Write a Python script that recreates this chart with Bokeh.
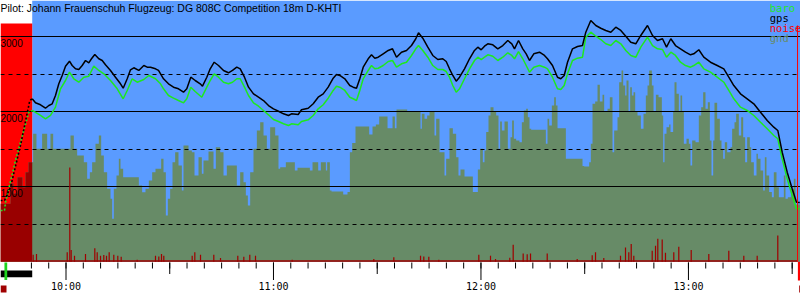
from bokeh.plotting import figure
from bokeh.models import Range1d
from bokeh.embed import file_html
from bokeh.resources import INLINE
from bokeh.core.properties import value

# ---------------- data (time = minutes after 10:00, altitude in m) ----------------
title = "Pilot: Johann Frauenschuh Flugzeug: DG 808C Competition 18m D-KHTI"
legend_labels = ["baro", "gps", "noise", "gnd"]
hour_ticks = [0, 60, 120, 180]
hour_labels = ["10:00", "11:00", "12:00", "13:00"]
y_labels = [1000, 2000, 3000]
grid_solid = [1000, 2000, 3000]
grid_dashed = [500, 1500, 2500]

RELEASE = -9.77      # end of tow (red zone)
TAKEOFF = -17.4
LANDING = 211.55

tow_gps_t = [-18.94, -17.78, -16.05, -13.16, -10.47, -9.77]
tow_gps_alt = [817, 817, 995, 1551, 2152, 2175]
tow_baro_t = [-18.94, -17.78, -17.49, -14.60, -10.76, -9.77]
tow_baro_alt = [684, 684, 794, 1351, 1996, 2019]

gps_t = [-9.77, -8.82, -7.37, -5.93, -4.97, -3.99, -3.04, -2.08, -1.10, -0.14,
         1.01, 1.79, 2.75, 3.70, 4.68, 5.64, 6.59, 7.37, 8.33, 9.49,
         10.47, 11.42, 12.87, 14.31, 15.76, 16.54, 17.70, 18.65, 19.61, 21.05,
         22.50, 23.48, 24.44, 25.88, 26.75, 28.20, 29.64, 31.09, 32.53, 33.98,
         34.93, 36.09, 37.36, 38.81, 39.47, 40.72, 41.70, 42.86, 44.10, 45.55,
         46.99, 48.15, 49.39, 50.38, 51.62, 52.78, 54.22, 55.67, 57.11, 58.56,
         60.00, 61.45, 62.90, 64.34, 65.21, 67.15, 68.10, 70.04, 71.49, 72.93,
         74.38, 75.82, 77.27, 78.22, 79.18, 80.63, 82.07, 83.05, 84.01, 84.96,
         85.95, 87.39, 88.35, 89.30, 90.28, 91.73, 93.18, 94.42, 95.58, 97.02,
         98.47, 99.91, 101.16, 101.94, 103.18, 104.63, 106.07, 107.52, 108.96, 109.95,
         110.90, 111.86, 112.84, 113.80, 115.24, 116.69, 118.13, 119.09, 120.07, 121.03,
         121.98, 123.43, 124.87, 126.32, 127.76, 128.92, 129.70, 130.86, 132.10, 133.08,
         134.04, 135.28, 136.93, 138.37, 139.24, 140.69, 142.13, 143.09, 144.07, 145.03,
         146.47, 147.92, 149.36, 150.32, 151.76, 153.21, 154.66, 156.10, 157.55, 158.99,
         160.44, 161.89, 163.33, 164.78, 166.22, 168.16, 169.61, 171.05, 172.50, 173.66,
         174.90, 176.26, 177.70, 179.15, 180.60, 181.55, 183.00, 184.44, 186.38, 188.32,
         190.23, 191.67, 193.12, 195.05, 196.99, 198.90, 200.84, 202.78, 204.68, 205.84,
         207.11, 208.56, 210.00, 211.25, 212.20]
gps_alt = [2175, 2121, 2095, 2049, 2085, 2108, 2219, 2375, 2486, 2610,
           2677, 2619, 2575, 2566, 2619, 2686, 2655, 2709, 2766, 2709,
           2686, 2629, 2553, 2463, 2375, 2316, 2442, 2562, 2589, 2553,
           2619, 2597, 2597, 2575, 2553, 2442, 2375, 2330, 2308, 2263,
           2308, 2463, 2419, 2375, 2343, 2463, 2575, 2663, 2619, 2553,
           2522, 2553, 2597, 2575, 2463, 2330, 2241, 2196, 2152, 2085,
           2041, 2009, 1974, 1952, 1974, 1965, 2028, 2049, 2108, 2196,
           2241, 2330, 2450, 2499, 2486, 2442, 2352, 2330, 2316, 2442,
           2597, 2709, 2762, 2717, 2730, 2775, 2820, 2842, 2730, 2797,
           2820, 2886, 2976, 3056, 2984, 2864, 2753, 2699, 2709, 2673,
           2575, 2486, 2410, 2463, 2575, 2709, 2820, 2864, 2829, 2877,
           2909, 2895, 2842, 2886, 2953, 2909, 2842, 2953, 2842, 2775,
           2686, 2775, 2797, 2753, 2709, 2619, 2463, 2442, 2486, 2663,
           2842, 2873, 2886, 3064, 3220, 3153, 3117, 3087, 3064, 3131,
           3087, 3010, 2930, 2909, 3020, 3153, 3020, 2953, 2976, 2864,
           2976, 2886, 2842, 2797, 2762, 2775, 2829, 2730, 2663, 2619,
           2575, 2463, 2352, 2241, 2175, 2108, 1996, 1885, 1796, 1752,
           1462, 1195, 973, 794, 790]

baro_t = [-9.77, -7.37, -5.93, -4.48, -3.04, -1.59, -0.14, 1.01, 2.26, 3.70,
          5.15, 6.59, 8.04, 9.49, 10.93, 12.87, 14.81, 16.54, 17.70, 19.14,
          20.59, 22.50, 23.95, 25.88, 27.33, 28.20, 29.64, 31.09, 32.53, 33.98,
          34.93, 36.09, 37.36, 39.27, 40.72, 41.70, 42.86, 44.10, 45.55, 46.99,
          48.15, 49.39, 50.38, 51.62, 52.78, 54.22, 55.67, 57.11, 58.56, 60.00,
          61.45, 62.90, 64.34, 65.21, 67.15, 68.10, 70.04, 71.49, 72.93, 74.38,
          75.82, 77.27, 78.22, 79.18, 80.63, 82.07, 83.05, 84.01, 84.96, 85.95,
          87.39, 88.35, 89.30, 90.28, 91.73, 93.18, 94.42, 95.58, 97.02, 98.47,
          99.91, 101.16, 101.94, 103.18, 104.63, 106.07, 107.52, 108.96, 109.95, 110.90,
          111.86, 112.84, 113.80, 115.24, 116.69, 118.13, 119.09, 120.07, 121.03, 121.98,
          123.43, 124.87, 126.32, 127.76, 128.92, 129.70, 130.86, 132.10, 133.08, 134.04,
          135.28, 136.93, 138.37, 139.24, 140.69, 142.13, 143.09, 144.07, 145.03, 146.47,
          147.92, 149.36, 150.32, 151.76, 153.21, 154.66, 156.10, 157.55, 158.99, 160.44,
          161.89, 163.33, 164.78, 166.22, 168.16, 169.61, 171.05, 172.50, 173.66, 174.90,
          176.26, 177.70, 179.15, 180.60, 181.55, 183.00, 184.44, 186.38, 188.32, 190.23,
          191.67, 193.12, 195.05, 196.99, 198.90, 200.84, 202.78, 204.68, 205.84, 207.11,
          208.56, 210.00, 211.25, 212.20]
baro_alt = [2019, 1952, 1908, 1952, 2063, 2308, 2419, 2530, 2442, 2396,
            2463, 2476, 2610, 2553, 2508, 2419, 2308, 2175, 2286, 2442,
            2396, 2432, 2486, 2442, 2375, 2308, 2219, 2183, 2152, 2121,
            2175, 2330, 2272, 2196, 2330, 2419, 2508, 2463, 2396, 2375,
            2396, 2442, 2442, 2330, 2219, 2121, 2076, 2019, 1961, 1898,
            1872, 1841, 1818, 1841, 1828, 1872, 1894, 1952, 2041, 2095,
            2183, 2286, 2343, 2330, 2286, 2196, 2175, 2152, 2286, 2442,
            2553, 2619, 2575, 2583, 2619, 2673, 2686, 2597, 2642, 2663,
            2753, 2842, 2886, 2820, 2730, 2619, 2566, 2566, 2539, 2463,
            2352, 2263, 2308, 2442, 2575, 2686, 2730, 2699, 2730, 2762,
            2743, 2686, 2730, 2789, 2753, 2709, 2806, 2709, 2619, 2530,
            2597, 2619, 2597, 2575, 2463, 2308, 2299, 2352, 2508, 2686,
            2717, 2730, 2997, 3064, 3010, 2966, 2909, 2886, 2953, 2909,
            2820, 2753, 2730, 2864, 2997, 2886, 2842, 2833, 2730, 2797,
            2753, 2663, 2619, 2597, 2619, 2663, 2575, 2530, 2463, 2396,
            2286, 2175, 2063, 2019, 1952, 1862, 1774, 1685, 1641, 1374,
            1107, 884, 706, 706]

gnd_t = [-18.94, -16.05, -15.18, -14.03, -12.58, -11.71, -10.84,
         -9.50, -8.54, -6.90, -5.45, -4.49, -3.71, 1.30, 2.26, 3.23, 5.15, 6.12, 6.89, 7.56,
         8.53, 9.49, 10.17, 10.94, 11.90, 12.87, 13.35, 13.83, 14.60, 15.28,
         15.76, 16.53, 21.06, 22.02, 22.99, 23.95, 24.92, 25.88, 27.52, 28.20,
         28.87, 29.45, 30.12, 30.80, 31.57, 32.53, 33.50, 33.98, 35.43, 36.39,
         37.16, 38.32, 39.28, 39.76, 41.21, 42.66, 43.33, 44.58, 45.55, 46.51,
         49.40, 50.37, 51.33, 52.01, 52.59, 53.26, 54.22, 55.19, 56.15, 57.12,
         58.08, 59.04, 60.49, 61.45, 61.94, 63.57, 66.18, 66.95, 70.52, 71.29,
         72.93, 73.70, 75.15, 75.53, 76.30, 76.78, 80.16, 81.41, 82.09, 82.76,
         83.72, 87.68, 88.64, 89.61, 90.57, 92.98, 94.43, 95.10, 95.58, 98.67,
         102.52, 102.90, 103.67, 104.44, 105.12, 106.56, 107.05, 108.01, 109.46, 109.94,
         110.90, 111.87, 112.83, 113.50, 114.08, 115.24, 117.65, 119.10, 119.77, 120.54,
         121.02, 121.51, 122.18, 122.76, 123.63, 124.40, 125.07, 125.55, 126.04, 126.81,
         127.77, 128.54, 129.02, 129.51, 130.18, 131.14, 131.82, 132.40, 133.07, 133.56,
         134.04, 134.52, 138.76, 139.25, 139.73, 140.50, 141.17, 141.66, 142.14, 144.55,
         149.37, 149.85, 151.30, 151.78, 152.26, 153.03, 153.71, 154.38, 155.15, 155.63,
         156.60, 157.27, 158.04, 158.53, 159.49, 159.97, 160.65, 161.13, 161.71, 162.09,
         162.67, 163.15, 163.64, 164.12, 164.60, 165.27, 166.24, 167.01, 167.68, 168.17,
         168.65, 169.42, 169.90, 170.58, 171.35, 172.31, 172.70, 173.08, 173.66, 174.43,
         174.81, 175.58, 175.97, 176.55, 177.22, 177.70, 178.18, 178.67, 179.44, 180.11,
         180.59, 181.08, 182.04, 183.00, 183.68, 184.26, 184.93, 185.61, 186.19, 186.67,
         187.15, 187.53, 188.31, 189.08, 189.56, 190.04, 190.52, 191.20, 192.16, 192.64,
         193.32, 193.80, 194.57, 195.25, 195.83, 196.40, 196.98, 197.75, 198.14, 198.91,
         199.68, 200.07, 200.84, 201.61, 202.09, 202.57, 203.34, 204.12, 204.69, 205.47,
         206.14, 207.59, 208.07, 208.74, 209.71, 210.48, 210.96, 212.40]
gnd_alt = [773, 1044, 910, 1128, 995, 1195, 1329,
           1707, 1507, 1707, 1507, 1707, 1507, 1685, 1507, 1418, 1329, 1107, 1195, 1329,
           1574, 1685, 1418, 1195, 973, 840, 573, 973, 1151, 1374,
           1240, 1128, 1017, 928, 973, 1084, 1195, 1240, 1374, 1195,
           617, 840, 973, 1329, 1462, 1285, 951, 1551, 1485, 1462,
           1151, 1396, 1173, 1351, 1471, 1240, 1529, 1462, 1151, 1285,
           1017, 1195, 1062, 884, 750, 1195, 1507, 1752, 1863, 1685,
           1507, 1796, 1685, 1240, 1262, 1329, 1218, 1253, 1218, 1329,
           1218, 1329, 1218, 1329, 951, 937, 897, 929, 1462, 1583,
           1805, 1698, 1805, 1832, 1939, 1783, 1939, 1783, 2032, 1997,
           1774, 1974, 1908, 1952, 1997, 1685, 1908, 1462, 1151, 1374,
           1783, 1707, 1396, 1151, 1231, 1138, 929, 1231, 1507, 1329,
           1485, 1730, 1952, 2063, 1997, 1952, 1507, 1872, 1752, 1872,
           1507, 1663, 1885, 1640, 1618, 1596, 1863, 2019, 2041, 1930,
           1774, 1761, 1574, 1908, 1819, 2086, 2197, 2086, 1783, 1374,
           1276, 1271, 1329, 1574, 2108, 2139, 2361, 2139, 2228, 1997,
           2041, 2197, 1462, 1752, 1930, 2397, 2553, 2353, 2219, 2419,
           1997, 2330, 2219, 2263, 1997, 1952, 1774, 1974, 2219, 2353,
           2553, 2353, 1997, 2228, 2197, 1952, 1329, 1707, 1796, 1832,
           1730, 1997, 2397, 2241, 1997, 2219, 1997, 1574, 1640, 1574,
           1285, 1618, 1596, 1952, 2063, 2263, 2041, 2130, 1618, 1151,
           1618, 2121, 1908, 1618, 1507, 1374, 1596, 1462, 1529, 1774,
           1863, 1974, 1685, 1930, 1663, 1329, 1663, 1529, 1329, 1151,
           1440, 1374, 1218, 951, 1396, 1151, 929, 862, 1195, 995,
           862, 1151, 840, 862, 973, 1107, 764, 764]

noise_t = [-9.49, -8.53, 0.35, 1.10, 1.50, 2.46, 5.64, 8.33, 9.02, 9.98,
           10.93, 11.71, 12.49, 13.82, 14.98, 15.96, 20.59, 25.88, 26.84, 27.62,
           28.28, 36.49, 37.25, 38.90, 42.74, 44.68, 49.68, 51.42, 53.15, 54.80,
           65.41, 89.01, 94.80, 102.52, 103.47, 104.92, 107.81, 119.38, 122.76, 124.21,
           128.34, 129.32, 132.21, 133.37, 134.33, 139.16, 147.83, 152.17, 153.13, 155.52,
           160.35, 161.80, 162.75, 163.45, 164.20, 169.52, 170.48, 171.14, 172.41, 173.36,
           175.76, 177.21, 180.80, 185.89, 191.67, 196.01, 199.88, 205.84]
noise_h = [93, 103, 125, 1258, 156, 80, 102, 178, 125, 80,
           89, 80, 125, 93, 80, 67, 27, 80, 71, 102,
           80, 80, 125, 93, 93, 49, 80, 67, 93, 80,
           27, 36, 58, 80, 71, 67, 27, 93, 80, 36,
           53, 227, 111, 98, 111, 111, 36, 85, 125, 49,
           80, 191, 125, 236, 80, 147, 214, 306, 297, 120,
           125, 200, 156, 102, 147, 80, 80, 350]
NOISE_FLOOR = 18

# ---------------- styling / geometry ----------------
SKY = "#5a9bff"
GND = "#678b67"
BARO = "#1ee81e"
NOISE = "#a00000"
RED = "#ff0000"
DARK_RED = "#990000"

W, H = 800, 300
PX_PER_MIN = 3.458
X10_PX = 65.5
M_PER_PX = 13.35
BASE_PX = 261.2


def tx(px):
    return (px - X10_PX) / PX_PER_MIN


def py(px):
    return (BASE_PX - px) * M_PER_PX


p = figure(width=W, height=H, output_backend="svg", toolbar_location=None,
           x_range=Range1d(tx(0), tx(W)), y_range=Range1d(py(H), py(0)),
           x_axis_location=None, y_axis_location=None,
           min_border=0, min_border_left=0, min_border_right=0,
           min_border_top=0, min_border_bottom=0)
p.grid.visible = False
p.outline_line_color = None
p.background_fill_color = "white"
p.border_fill_color = "white"

# sky and tow zone
p.quad(left=RELEASE, right=tx(W), bottom=0, top=py(0), color=SKY, line_width=0)
p.quad(left=tx(0), right=RELEASE, bottom=0, top=py(23), color=RED, line_width=0)

# ground
p.varea_step(x=gnd_t, y1=0, y2=gnd_alt, step_mode="after", fill_color=GND)
red_t = [t for t in gnd_t if t < RELEASE]
red_alt = gnd_alt[:len(red_t)]
p.varea_step(x=red_t + [RELEASE], y1=0, y2=red_alt + [red_alt[-1]],
             step_mode="after", fill_color=DARK_RED)

# grid
p.hspan(y=grid_solid, line_color="black", line_width=1)
p.hspan(y=grid_dashed, line_color="black", line_width=1, line_dash="4 4")

# noise
p.quad(left=RELEASE, right=LANDING, bottom=0, top=NOISE_FLOOR, color=NOISE, line_width=0)
p.vbar(x=noise_t, width=0.35, bottom=0, top=noise_h, color=NOISE, line_width=0)

# altitude traces
p.line(tow_baro_t, tow_baro_alt, line_color=BARO, line_width=1.6, line_dash="2 2")
p.line(tow_gps_t, tow_gps_alt, line_color="black", line_width=1.6, line_dash="2 2")
p.line(baro_t, baro_alt, line_color=BARO, line_width=1.5)
p.line(gps_t, gps_alt, line_color="black", line_width=1.5)

# landing marker
p.segment(x0=[LANDING], y0=[0], x1=[LANDING], y1=[py(25)], line_color=RED, line_width=1)
p.quad(left=[LANDING + 0.1], right=[tx(W)], bottom=[py(280)], top=[0], color=RED, line_width=0)
p.quad(left=[tx(798.7)], right=[tx(W)], bottom=[py(292)], top=[py(285)], color=NOISE, line_width=0)

# time ticks
minor = [m for m in range(-10, 215, 5)]
half = [m for m in minor if m % 30 == 0 and m % 60 != 0]
p.segment(x0=minor, y0=[py(262)] * len(minor), x1=minor, y1=[py(268)] * len(minor),
          line_color="black", line_width=1)
p.segment(x0=half, y0=[py(262)] * len(half), x1=half, y1=[py(273.5)] * len(half),
          line_color="black", line_width=1)
p.segment(x0=hour_ticks, y0=[py(262)] * 4, x1=hour_ticks, y1=[py(279.5)] * 4,
          line_color="black", line_width=1)
p.text(x=hour_ticks, y=[py(286)] * 4, text=hour_labels, text_align="center",
       text_baseline="middle", text_font=value("DejaVu Sans Mono"),
       text_font_size="10px", text_color="black")

# flight time bar markers (bottom left)
p.quad(left=[tx(0)], right=[RELEASE], bottom=[py(276.7)], top=[py(270)], color="black", line_width=0)
p.quad(left=[TAKEOFF - 0.4], right=[TAKEOFF + 0.4], bottom=[py(279.5)], top=[py(262)],
       color="#1ed41e", line_width=0)
p.quad(left=[tx(0)], right=[tx(6)], bottom=[py(292)], top=[py(285)], color=NOISE, line_width=0)

# altitude labels
p.text(x=[tx(0)] * 3, y=y_labels, text=[str(v) for v in y_labels], text_align="left",
       text_baseline="top", y_offset=2, text_font=value("Liberation Sans"),
       text_font_size="10px", text_color="black")

# title
p.text(x=[tx(0)], y=[py(7)], text=[title], text_align="left", text_baseline="middle",
       text_font=value("Liberation Sans"), text_font_size="10.5px", text_color="black")

# legend
p.text(x=[tx(769.3)] * 4, y=[py(7), py(17), py(27), py(37)], text=legend_labels,
       text_align="left", text_baseline="middle", text_font=value("DejaVu Sans Mono"),
       text_font_size="10.5px", text_color=[BARO, "black", RED, GND])

open("out.html", "w").write(file_html(p, INLINE))
